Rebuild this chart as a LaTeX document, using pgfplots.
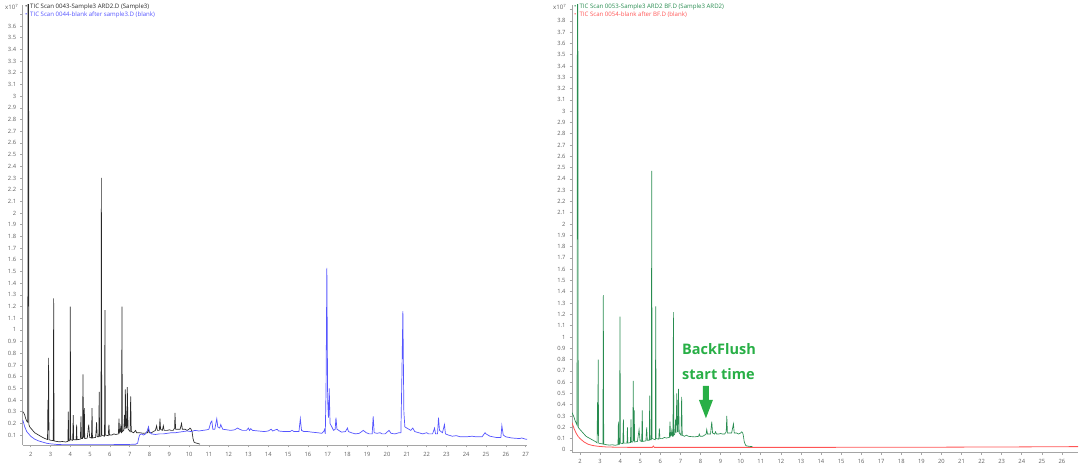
\documentclass[border=0pt]{standalone}
\usepackage{pgfplots}
\pgfplotsset{compat=1.18}
\usepackage{fontspec}
\setmainfont{Open Sans}

\definecolor{axgray}{RGB}{165,165,165}
\definecolor{tickgray}{RGB}{95,95,95}
\definecolor{trblack}{RGB}{40,40,40}
\definecolor{trblue}{RGB}{85,85,255}
\definecolor{trgreen}{RGB}{40,140,80}
\definecolor{trred}{RGB}{255,85,85}
\definecolor{bfgreen}{RGB}{40,175,70}

\pgfplotsset{
  tic/.style={
    scale only axis,
    anchor=south west,
    axis x line=bottom, axis y line=left,
    axis line style={-, draw=axgray, line width=0.8pt},
    tick style={draw=axgray, line width=0.6pt},
    tick align=outside, major tick length=2.5pt,
    xtick distance=1, ytick distance=0.1,
    tick label style={font=\fontsize{5.8}{6}\selectfont, text=tickgray},
    /pgf/number format/assume math mode=true,
    x tick label style={yshift=-1pt},
    y tick label style={xshift=-0.5pt},
  },
}

\begin{document}
\begin{tikzpicture}
\path[use as bounding box] (0,0) rectangle (1080pt,468pt);

% ---- left: sample 3 and the blank after it
\begin{axis}[tic, at={(22.7pt,23pt)}, width=504.3pt, height=440pt,
  xmin=1.596, xmax=27.07, ymin=0.015, ymax=3.78,
  yticklabel={\ifdim\tick pt>3.65pt\else\pgfmathprintnumber{\tick}\fi}]
\addplot[trblack, line width=0.65pt] coordinates {
(1.60,0.30) (1.65,0.29) (1.70,0.27) (1.75,0.24) (1.80,0.22) (1.85,0.21) (1.87,4.6) (1.89,4.6) (1.91,0.19)
(1.95,0.17) (2.0,0.16) (2.1,0.14) (2.2,0.12) (2.3,0.11) (2.4,0.10) (2.5,0.09) (2.6,0.08) (2.7,0.072)
(2.8,0.065) (2.85,0.062) (2.87,0.40) (2.885,0.14) (2.905,0.76) (2.925,0.06) (3.0,0.056) (3.14,0.052)
(3.16,1.27) (3.18,0.05) (3.3,0.046) (3.45,0.042) (3.6,0.045) (3.75,0.041) (3.88,0.045) (3.9,0.30)
(3.92,0.05) (3.98,0.05) (4.0,1.20) (4.02,0.06) (4.12,0.055) (4.15,0.27) (4.17,0.06) (4.3,0.06)
(4.32,0.19) (4.34,0.06) (4.51,0.065) (4.54,0.26) (4.56,0.07) (4.62,0.07) (4.64,0.62) (4.67,0.08)
(4.69,0.08) (4.71,0.33) (4.73,0.07) (4.86,0.075) (4.93,0.19) (4.98,0.08) (5.07,0.075) (5.1,0.33)
(5.12,0.075) (5.28,0.08) (5.33,0.21) (5.36,0.085) (5.44,0.085) (5.46,0.47) (5.48,0.09) (5.55,0.09)
(5.57,2.30) (5.59,0.10) (5.73,0.09) (5.75,1.17) (5.77,0.10) (5.92,0.095) (5.95,0.19) (5.98,0.10)
(6.1,0.10) (6.2,0.11) (6.3,0.105) (6.43,0.11) (6.46,0.24) (6.49,0.12) (6.52,0.13) (6.55,0.17)
(6.58,0.12) (6.59,0.12) (6.61,1.20) (6.63,0.13) (6.7,0.14) (6.74,0.27) (6.76,0.15) (6.78,0.49)
(6.82,0.16) (6.86,0.16) (6.88,0.51) (6.92,0.15) (7.02,0.13) (7.05,0.43) (7.08,0.13) (7.2,0.12)
(7.3,0.14) (7.35,0.12) (7.5,0.12) (7.7,0.115) (7.9,0.12) (7.94,0.16) (7.98,0.12) (8.1,0.12)
(8.2,0.13) (8.3,0.14) (8.36,0.18) (8.4,0.14) (8.5,0.14) (8.53,0.24) (8.56,0.15) (8.65,0.14)
(8.7,0.18) (8.74,0.14) (8.9,0.14) (9.0,0.145) (9.1,0.14) (9.2,0.14) (9.27,0.16) (9.29,0.29)
(9.32,0.15) (9.45,0.15) (9.55,0.15) (9.62,0.20) (9.66,0.15) (9.8,0.15) (9.9,0.14) (10.0,0.15)
(10.05,0.16) (10.1,0.15) (10.15,0.13) (10.2,0.07) (10.25,0.04) (10.3,0.035) (10.4,0.03)
(10.5,0.025) (10.55,0.022)};
\addplot[trblue, line width=0.7pt] coordinates {
(1.6,0.23) (1.7,0.17) (1.8,0.13) (1.9,0.11) (2.0,0.09) (2.2,0.065) (2.4,0.05) (2.6,0.04) (2.8,0.03)
(3.0,0.025) (3.3,0.02) (3.6,0.018) (4.0,0.017) (5.0,0.017) (6.0,0.018) (7.0,0.02) (7.3,0.022)
(7.4,0.03) (7.45,0.07) (7.5,0.10) (7.6,0.11) (7.7,0.10) (7.8,0.11) (7.9,0.14) (7.95,0.17) (8.0,0.13)
(8.1,0.11) (8.3,0.105) (8.5,0.11) (8.7,0.11) (8.9,0.115) (9.1,0.12) (9.3,0.12) (9.5,0.125)
(9.7,0.13) (9.9,0.135) (10.1,0.13) (10.3,0.14) (10.5,0.135) (10.7,0.14) (10.9,0.145) (11.0,0.15)
(11.1,0.21) (11.15,0.22) (11.2,0.15) (11.3,0.15) (11.4,0.24) (11.45,0.17) (11.55,0.16) (11.6,0.19)
(11.7,0.15) (11.9,0.145) (12.1,0.14) (12.3,0.145) (12.45,0.16) (12.55,0.15) (12.7,0.14) (12.9,0.14)
(13.0,0.16) (13.05,0.14) (13.12,0.155) (13.2,0.14) (13.5,0.135) (13.8,0.13) (14.0,0.135)
(14.15,0.15) (14.22,0.135) (14.45,0.15) (14.52,0.135) (14.8,0.13) (15.1,0.13) (15.2,0.14)
(15.3,0.13) (15.55,0.13) (15.62,0.24) (15.68,0.14) (15.8,0.13) (16.0,0.13) (16.2,0.125) (16.5,0.12)
(16.7,0.115) (16.8,0.13) (16.85,0.15) (16.88,0.11) (16.92,0.5) (16.96,1.53) (17.0,0.4) (17.04,0.25)
(17.08,0.5) (17.12,0.2) (17.3,0.14) (17.38,0.15) (17.42,0.25) (17.47,0.15) (17.7,0.125) (17.9,0.13)
(18.0,0.16) (18.05,0.13) (18.2,0.12) (18.4,0.11) (18.6,0.115) (18.8,0.14) (18.95,0.12) (19.1,0.11)
(19.25,0.11) (19.3,0.26) (19.35,0.12) (19.5,0.115) (19.65,0.12) (19.75,0.11) (19.9,0.11)
(20.1,0.14) (20.2,0.115) (20.4,0.11) (20.6,0.12) (20.7,0.12) (20.75,0.6) (20.8,1.16) (20.85,0.3)
(20.9,0.17) (21.0,0.16) (21.2,0.14) (21.3,0.16) (21.4,0.13) (21.6,0.12) (21.8,0.11) (22.0,0.12)
(22.1,0.11) (22.3,0.11) (22.4,0.16) (22.45,0.11) (22.55,0.11) (22.6,0.25) (22.65,0.14) (22.8,0.12)
(22.9,0.19) (22.95,0.11) (23.1,0.10) (23.3,0.09) (23.5,0.095) (23.7,0.085) (24.0,0.085)
(24.3,0.09) (24.5,0.085) (24.8,0.085) (24.95,0.12) (25.0,0.11) (25.2,0.09) (25.5,0.08) (25.75,0.08)
(25.8,0.18) (25.87,0.10) (26.0,0.085) (26.3,0.075) (26.7,0.07) (26.8,0.075) (27.0,0.065) (27.07,0.065)};
\end{axis}

% ---- right: sample 3 with backflush and the blank after it
\begin{axis}[tic, at={(572pt,15.3pt)}, width=506pt, height=447.7pt,
  xmin=1.6, xmax=26.8, ymin=-0.025, ymax=3.94,
  yticklabel={\ifdim\tick pt>3.85pt\else\pgfmathprintnumber{\tick}\fi}]
\addplot[trred, line width=0.8pt] coordinates {
(1.6,0.24) (1.7,0.19) (1.8,0.15) (1.9,0.12) (2.0,0.10) (2.2,0.07) (2.4,0.05) (2.6,0.04) (2.8,0.034)
(3.0,0.03) (3.3,0.026) (3.7,0.024) (4.5,0.022) (5.6,0.022) (5.65,0.034) (5.7,0.022) (7.0,0.022)
(10.0,0.022) (13.0,0.022) (18.0,0.023) (22.0,0.025) (24.8,0.027) (26.8,0.029)};
\addplot[trgreen, line width=0.65pt] coordinates {
(1.60,0.33) (1.65,0.31) (1.70,0.29) (1.75,0.26) (1.80,0.24) (1.85,0.22) (1.87,4.6) (1.89,4.6) (1.91,0.20)
(1.95,0.19) (2.0,0.18) (2.1,0.16) (2.2,0.14) (2.3,0.12) (2.4,0.11) (2.5,0.10) (2.6,0.09) (2.7,0.08)
(2.8,0.07) (2.85,0.062) (2.87,0.42) (2.885,0.14) (2.905,0.80) (2.925,0.06) (3.0,0.056) (3.14,0.052)
(3.16,1.37) (3.18,0.05) (3.3,0.046) (3.45,0.042) (3.6,0.045) (3.75,0.041) (3.89,0.045) (3.91,0.25)
(3.93,0.05) (3.97,0.05) (3.99,1.18) (4.01,0.06) (4.13,0.055) (4.16,0.27) (4.18,0.06) (4.34,0.06)
(4.36,0.20) (4.38,0.06) (4.51,0.065) (4.54,0.27) (4.56,0.07) (4.63,0.07) (4.65,0.61) (4.67,0.08)
(4.68,0.08) (4.70,0.35) (4.72,0.07) (4.86,0.075) (4.94,0.18) (4.99,0.08) (5.07,0.075) (5.10,0.35)
(5.12,0.075) (5.28,0.08) (5.32,0.20) (5.35,0.085) (5.45,0.085) (5.47,0.48) (5.49,0.09) (5.55,0.09)
(5.57,2.47) (5.59,0.10) (5.75,0.09) (5.77,1.27) (5.79,0.10) (5.92,0.095) (5.95,0.19) (5.98,0.10)
(6.1,0.10) (6.2,0.11) (6.3,0.105) (6.45,0.11) (6.48,0.25) (6.51,0.12) (6.54,0.13) (6.57,0.17)
(6.60,0.12) (6.63,0.12) (6.65,1.22) (6.67,0.13) (6.72,0.14) (6.76,0.27) (6.78,0.15) (6.82,0.50)
(6.85,0.16) (6.88,0.16) (6.90,0.54) (6.94,0.15) (7.03,0.13) (7.06,0.47) (7.09,0.13) (7.2,0.12)
(7.3,0.13) (7.4,0.12) (7.5,0.118) (7.7,0.115) (7.9,0.12) (7.94,0.14) (7.98,0.12) (8.1,0.12)
(8.2,0.13) (8.28,0.14) (8.31,0.18) (8.35,0.14) (8.5,0.14) (8.56,0.25) (8.6,0.15) (8.7,0.14)
(8.75,0.16) (8.8,0.14) (8.9,0.14) (9.0,0.145) (9.1,0.14) (9.2,0.14) (9.28,0.16) (9.31,0.30)
(9.34,0.15) (9.45,0.15) (9.55,0.15) (9.64,0.23) (9.68,0.15) (9.8,0.15) (9.9,0.14) (10.0,0.15)
(10.05,0.16) (10.1,0.15) (10.13,0.13) (10.18,0.07) (10.25,0.04) (10.3,0.035) (10.4,0.032)
(10.5,0.03) (10.58,0.03)};
\fill[bfgreen] (axis cs:8.12,0.567) -- (axis cs:8.42,0.567) -- (axis cs:8.42,0.443)
  -- (axis cs:8.62,0.443) -- (axis cs:8.27,0.28) -- (axis cs:7.92,0.443)
  -- (axis cs:8.12,0.443) -- cycle;
\node[anchor=base west, inner sep=0pt, text=bfgreen, font=\bfseries\fontsize{14.5}{16}\selectfont]
  at (axis cs:7.08,0.842) {BackFlush};
\node[anchor=base west, inner sep=0pt, text=bfgreen, font=\bfseries\fontsize{14.5}{16}\selectfont]
  at (axis cs:7.08,0.62) {start time};
\end{axis}

% ---- legends and exponent labels
\begin{scope}[every node/.style={inner sep=0pt, anchor=west, font=\fontsize{6.1}{7}\selectfont}]
\node[text=tickgray] at (5pt,461pt) {x10\textsuperscript{7}};
\node[text=trblack] at (25pt,461pt) {\textbullet};
\node[text=trblack] at (30pt,461pt) {TIC Scan 0043-Sample3 ARD2.D (Sample3)};
\node[text=trblue] at (25pt,453pt) {\textbullet};
\node[text=trblue] at (30pt,453pt) {TIC Scan 0044-blank after sample3.D (blank)};
\node[text=tickgray] at (553pt,461pt) {x10\textsuperscript{7}};
\node[text=trgreen] at (574pt,461pt) {\textbullet};
\node[text=trgreen] at (579.3pt,461pt) {TIC Scan 0053-Sample3 ARD2 BF.D (Sample3 ARD2)};
\node[text=trred] at (574pt,453pt) {\textbullet};
\node[text=trred] at (579.3pt,453pt) {TIC Scan 0054-blank after BF.D (blank)};
\end{scope}
\end{tikzpicture}
\end{document}
